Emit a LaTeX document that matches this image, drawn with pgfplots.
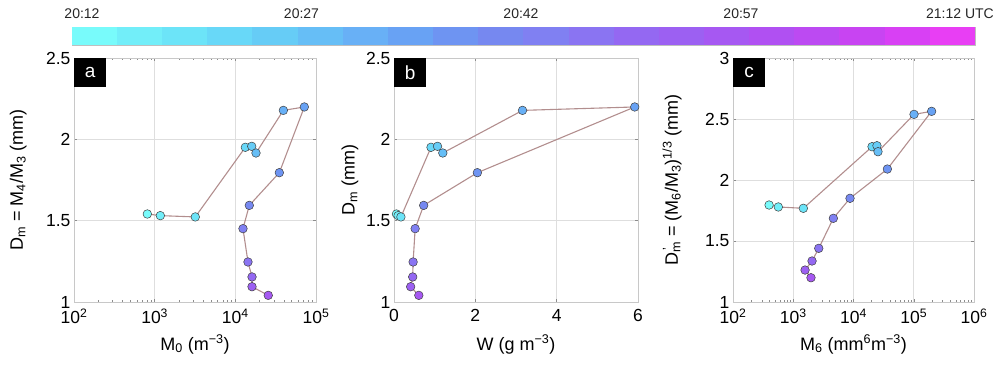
\documentclass[border=0pt]{standalone}
\usepackage{fontspec}
\setmainfont{Liberation Sans}
\usepackage{pgfplots}
\pgfplotsset{compat=1.18}

\definecolor{gridc}{RGB}{222,222,222}
\definecolor{boxc}{RGB}{200,200,200}
\definecolor{linec}{RGB}{178,142,142}
\definecolor{cb0}{RGB}{120,251,251}
\definecolor{cb1}{RGB}{114,238,249}
\definecolor{cb2}{RGB}{108,228,248}
\definecolor{cb3}{RGB}{104,216,248}
\definecolor{cb4}{RGB}{102,204,246}
\definecolor{cb5}{RGB}{102,190,246}
\definecolor{cb6}{RGB}{104,176,246}
\definecolor{cb7}{RGB}{104,162,244}
\definecolor{cb8}{RGB}{110,148,242}
\definecolor{cb9}{RGB}{118,136,240}
\definecolor{cb10}{RGB}{128,128,242}
\definecolor{cb11}{RGB}{138,116,242}
\definecolor{cb12}{RGB}{148,104,242}
\definecolor{cb13}{RGB}{156,96,242}
\definecolor{cb14}{RGB}{166,88,242}
\definecolor{cb15}{RGB}{176,80,242}
\definecolor{cb16}{RGB}{188,74,242}
\definecolor{cb17}{RGB}{200,68,242}
\definecolor{cb18}{RGB}{216,64,244}
\definecolor{cb19}{RGB}{232,62,244}

\tikzset{lettr/.style={fill=black, text=white, anchor=north west, minimum width=32pt,
   minimum height=29pt, inner sep=0pt, font=\fontsize{19}{20}\selectfont}}

\pgfplotsset{
 base/.style={scale only axis, height=244pt, anchor=south west,
   grid=major, major grid style={gridc, line width=0.8pt},
   axis line style={boxc, line width=0.8pt},
   tick style={black!45, line width=0.5pt}, major tick length=3pt, minor tick length=2pt,
   tick align=inside,
   ticklabel style={font=\fontsize{17.5}{20}\selectfont},
   xticklabel style={yshift=-3.5pt},
   label style={font=\fontsize{18}{20}\selectfont}},
 sc/.style={scatter, mark=*, mark size=4.3pt, draw=linec, line width=1.1pt,
   point meta=explicit symbolic, mark options={line width=0.5pt},
   scatter/classes={
     c0={draw=black!75,fill=cb0}, c1={draw=black!75,fill=cb1}, c2={draw=black!75,fill=cb2},
     c3={draw=black!75,fill=cb3}, c4={draw=black!75,fill=cb4}, c5={draw=black!75,fill=cb5},
     c6={draw=black!75,fill=cb6}, c7={draw=black!75,fill=cb7}, c8={draw=black!75,fill=cb8},
     c9={draw=black!75,fill=cb9}, c10={draw=black!75,fill=cb10}, c11={draw=black!75,fill=cb11},
     c12={draw=black!75,fill=cb12}, c13={draw=black!75,fill=cb13}, c14={draw=black!75,fill=cb14}}}
}

\pgfdeclareplotmark{cbrect}{\pgfpathrectangle{\pgfpoint{-22.7pt}{-9pt}}{\pgfpoint{45.4pt}{18pt}}\pgfusepathqfill}

\begin{document}
\begin{tikzpicture}
\useasboundingbox (0,0) rectangle (996pt,365pt);

% colour bar
\begin{axis}[scale only axis, at={(72pt,320pt)}, anchor=south west, width=903pt, height=18pt,
  xmin=0, xmax=60, ymin=0, ymax=1, ytick=\empty, xtick={15,30,45}, xticklabel=\empty,
  xtick pos=right, tick align=inside, major tick length=7pt,
  tick style={black!70, line width=0.6pt}, axis line style={black!25},
  axis on top]
\addplot[scatter, only marks, mark=cbrect, point meta=explicit symbolic,
  scatter/classes={
   c0={fill=cb0}, c1={fill=cb1}, c2={fill=cb2}, c3={fill=cb3}, c4={fill=cb4},
   c5={fill=cb5}, c6={fill=cb6}, c7={fill=cb7}, c8={fill=cb8}, c9={fill=cb9},
   c10={fill=cb10}, c11={fill=cb11}, c12={fill=cb12}, c13={fill=cb13}, c14={fill=cb14},
   c15={fill=cb15}, c16={fill=cb16}, c17={fill=cb17}, c18={fill=cb18}, c19={fill=cb19}}]
 table[meta=c] {
x y c
1.5 0.5 c0
4.5 0.5 c1
7.5 0.5 c2
10.5 0.5 c3
13.5 0.5 c4
16.5 0.5 c5
19.5 0.5 c6
22.5 0.5 c7
25.5 0.5 c8
28.5 0.5 c9
31.5 0.5 c10
34.5 0.5 c11
37.5 0.5 c12
40.5 0.5 c13
43.5 0.5 c14
46.5 0.5 c15
49.5 0.5 c16
52.5 0.5 c17
55.5 0.5 c18
58.5 0.5 c19
};
\end{axis}
\begin{scope}[every node/.style={anchor=base, font=\fontsize{14}{16}\selectfont, text=black!85, inner sep=0pt}]
\node at (82pt,346pt) {20:12};
\node at (301.5pt,346pt) {20:27};
\node at (521pt,346pt) {20:42};
\node at (741pt,346pt) {20:57};
\node at (960pt,346pt) {21:12 UTC};
\end{scope}

% panel a
\begin{axis}[base, at={(74pt,63pt)}, width=242pt,
  xmode=log, log basis x=10, xmin=100, xmax=100000, ymin=1, ymax=2.5,
  xtick={100,1000,10000,100000},
  xticklabels={10\textsuperscript{2},10\textsuperscript{3},10\textsuperscript{4},10\textsuperscript{5}},
  minor xtick={200,300,400,500,600,700,800,900,2000,3000,4000,5000,6000,7000,8000,9000,20000,30000,40000,50000,60000,70000,80000,90000},
  ytick={1,1.5,2,2.5}, yticklabels={1,1.5,2,2.5},
  xlabel={M\textsubscript{0} (m\textsuperscript{−3})},
  ylabel={D\textsubscript{m} = M\textsubscript{4}/M\textsubscript{3} (mm)},
  xlabel style={at={(axis description cs:0.5,-0.197)}, anchor=base},
  ylabel style={at={(axis description cs:-0.231,0.5)}, anchor=center}]
\addplot[sc] table[meta=c] {
x y c
811 1.541 c0
1175 1.531 c1
3190 1.523 c2
13300 1.951 c3
15960 1.957 c4
18040 1.916 c5
39400 2.178 c6
71700 2.199 c7
35100 1.795 c8
14900 1.594 c9
12440 1.451 c10
14350 1.246 c11
16100 1.154 c12
16100 1.094 c13
25600 1.041 c14
};
\node[lettr] at (rel axis cs:0,1) {a};
\end{axis}

% panel b
\begin{axis}[base, at={(394pt,63pt)}, width=244pt,
  xmin=0, xmax=6, ymin=1, ymax=2.5,
  xtick={0,2,4,6}, xticklabels={0,2,4,6},
  ytick={1,1.5,2,2.5}, yticklabels={1,1.5,2,2.5},
  xlabel={W (g m\textsuperscript{−3})},
  ylabel={D\textsubscript{m} (mm)},
  xlabel style={at={(axis description cs:0.5,-0.197)}, anchor=base},
  ylabel style={at={(axis description cs:-0.18,0.5)}, anchor=center}]
\addplot[sc] table[meta=c] {
x y c
0.06 1.541 c0
0.10 1.531 c1
0.17 1.523 c2
0.91 1.951 c3
1.07 1.957 c4
1.20 1.916 c5
3.16 2.178 c6
5.92 2.199 c7
2.05 1.795 c8
0.73 1.594 c9
0.52 1.451 c10
0.47 1.246 c11
0.46 1.154 c12
0.41 1.094 c13
0.61 1.041 c14
};
\node[lettr] at (rel axis cs:0,1) {b};
\end{axis}

% panel c
\begin{axis}[base, at={(733pt,63pt)}, width=241pt,
  xmode=log, log basis x=10, xmin=100, xmax=1000000, ymin=1, ymax=3,
  xtick={100,1000,10000,100000,1000000},
  xticklabels={10\textsuperscript{2},10\textsuperscript{3},10\textsuperscript{4},10\textsuperscript{5},10\textsuperscript{6}},
  minor xtick={200,300,400,500,600,700,800,900,2000,3000,4000,5000,6000,7000,8000,9000,20000,30000,40000,50000,60000,70000,80000,90000,200000,300000,400000,500000,600000,700000,800000,900000},
  ytick={1,1.5,2,2.5,3}, yticklabels={1,1.5,2,2.5,3},
  xlabel={M\textsubscript{6} (mm\textsuperscript{6}m\textsuperscript{−3})},
  ylabel={D\rlap{\textsuperscript{\,'}}\textsubscript{m} = (M\textsubscript{6}/M\textsubscript{3})\textsuperscript{1/3} (mm)},
  xlabel style={at={(axis description cs:0.5,-0.197)}, anchor=base},
  ylabel style={at={(axis description cs:-0.253,0.5)}, anchor=center}]
\addplot[sc] table[meta=c] {
x y c
397 1.795 c0
565 1.779 c1
1470 1.768 c2
20300 2.273 c3
24500 2.281 c4
25500 2.232 c5
101000 2.538 c6
198000 2.563 c7
36500 2.090 c8
8750 1.850 c9
4630 1.686 c10
2650 1.440 c11
2050 1.336 c12
1570 1.262 c13
1970 1.199 c14
};
\node[lettr] at (rel axis cs:0,1) {c};
\end{axis}
\end{tikzpicture}
\end{document}
